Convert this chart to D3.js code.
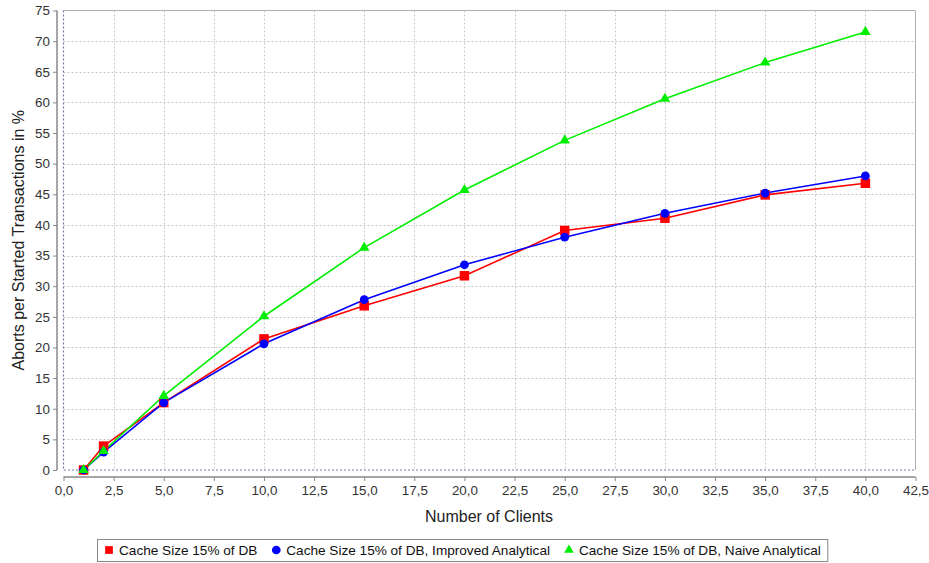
<!DOCTYPE html>
<html>
<head>
<meta charset="utf-8">
<script src="https://cdn.jsdelivr.net/npm/d3@7"></script>
<style>
  body { margin: 0; background: #fff; }
  svg { display: block; font-family: "Liberation Sans", Arial, sans-serif; }
</style>
</head>
<body>
<svg id="chart" width="929" height="563"></svg>
<script>
// Clients on the x axis
const clients = [1, 2, 5, 10, 15, 20, 25, 30, 35, 40];
// Abort rates (%) per series
const measured = [0, 3.9, 11.0, 21.4, 26.8, 31.7, 39.1, 41.1, 44.9, 46.8];
const improved = [0, 2.9, 11.0, 20.6, 27.8, 33.5, 38.0, 41.9, 45.2, 48.0];
const naive    = [0, 3.1, 12.1, 25.1, 36.3, 45.7, 53.8, 60.6, 66.5, 71.5];
const seriesNames = [
  "Cache Size 15% of DB",
  "Cache Size 15% of DB, Improved Analytical",
  "Cache Size 15% of DB, Naive Analytical"
];
const xTicks = d3.range(0, 42.51, 2.5);
const yTicks = d3.range(0, 75.1, 5);

const svg = d3.select("#chart");
const plot = { left: 63.5, right: 915.5, top: 10.5, bottom: 470 };

const x = d3.scaleLinear().domain([0, 42.5]).range([plot.left, plot.right]);
const y = d3.scaleLinear().domain([0, 75]).range([plot.bottom, plot.top]);
const fmt = v => d3.format(".1f")(v).replace(".", ",");

// plot background
svg.append("rect")
  .attr("x", plot.left).attr("y", plot.top)
  .attr("width", plot.right - plot.left).attr("height", plot.bottom - plot.top)
  .attr("fill", "#fff");

// grid
const grid = svg.append("g").attr("stroke", "#c8c8c8").attr("stroke-width", 1)
  .attr("stroke-dasharray", "2,2");
grid.selectAll(".gx").data(xTicks.filter(t => t > 0 && t < 42.5)).join("line")
  .attr("x1", d => Math.round(x(d)) + 0.5).attr("x2", d => Math.round(x(d)) + 0.5)
  .attr("y1", plot.top).attr("y2", plot.bottom);
grid.selectAll(".gy").data(yTicks.filter(t => t > 0 && t < 75)).join("line")
  .attr("y1", d => Math.round(y(d)) + 0.5).attr("y2", d => Math.round(y(d)) + 0.5)
  .attr("x1", plot.left).attr("x2", plot.right);

// outline: solid top & right
svg.append("path")
  .attr("d", `M${plot.left},${plot.top}H${plot.right}V${plot.bottom}`)
  .attr("fill", "none").attr("stroke", "#b0b0b0").attr("stroke-width", 1);
// zero baselines on left & bottom
svg.append("path")
  .attr("d", `M${plot.left},${plot.top}V${plot.bottom}H${plot.right}`)
  .attr("fill", "none").attr("stroke", "#7878a8").attr("stroke-width", 1.2)
  .attr("stroke-dasharray", "2,2");

// axes
const xAxisG = svg.append("g").attr("transform", `translate(0,477)`)
  .call(d3.axisBottom(x).tickValues(xTicks).tickFormat(fmt).tickSize(4).tickPadding(4));
const yAxisG = svg.append("g").attr("transform", `translate(57,0)`)
  .call(d3.axisLeft(y).tickValues(yTicks).tickFormat(d3.format("d")).tickSize(4).tickPadding(3));
[xAxisG, yAxisG].forEach(g => {
  g.select(".domain").attr("stroke", "#888").attr("stroke-width", 1.5);
  g.selectAll(".tick line").attr("stroke", "#888");
  g.selectAll(".tick text").attr("fill", "#333").attr("font-size", 13.4)
    .attr("font-family", "'Liberation Sans', Arial, sans-serif");
});
xAxisG.select(".domain").attr("d", `M${plot.left},0H${plot.right}`);
yAxisG.select(".domain").attr("d", `M0,${plot.top}V${plot.bottom}`);

// axis titles
svg.append("text").attr("x", 489).attr("y", 521.5)
  .attr("text-anchor", "middle").attr("font-size", 16).attr("fill", "#222")
  .text("Number of Clients");
svg.append("text")
  .attr("transform", `translate(23.5,${(plot.top + plot.bottom) / 2}) rotate(-90)`)
  .attr("text-anchor", "middle").attr("font-size", 16).attr("fill", "#222")
  .text("Aborts per Started Transactions in %");

// series
const series = [
  { name: seriesNames[0], values: measured, color: "#ff0000", shape: d3.symbolSquare, size: 90 },
  { name: seriesNames[1], values: improved, color: "#0000ff", shape: d3.symbolCircle, size: 60 },
  { name: seriesNames[2], values: naive,    color: "#00ee00", shape: d3.symbolTriangle, size: 48 }
];
const line = d3.line().x(d => x(d[0])).y(d => y(d[1]));
series.forEach(s => {
  const pts = clients.map((c, i) => [c, s.values[i]]);
  svg.append("path").datum(pts).attr("d", line)
    .attr("fill", "none").attr("stroke", s.color).attr("stroke-width", 1.6);
});
series.forEach(s => {
  const pts = clients.map((c, i) => [c, s.values[i]]);
  svg.append("g").selectAll("path").data(pts).join("path")
    .attr("transform", d => `translate(${x(d[0])},${y(d[1])})`)
    .attr("d", d3.symbol().type(s.shape).size(s.size))
    .attr("fill", s.color);
});

// legend
const legend = svg.append("g");
const legItems = legend.selectAll("g").data(series).join("g");
let cx = 105;
legItems.each(function (s) {
  const g = d3.select(this);
  g.append("path").attr("transform", `translate(${cx + 4},550)`)
    .attr("d", d3.symbol().type(s.shape).size(s.shape === d3.symbolTriangle ? 40 : 60))
    .attr("fill", s.color);
  const t = g.append("text").attr("x", cx + 14).attr("y", 555)
    .attr("font-size", 13.6).attr("fill", "#111").text(s.name);
  cx += 14 + t.node().getComputedTextLength() + 15;
});
legend.insert("rect", ":first-child")
  .attr("x", 97.5).attr("y", 539.5).attr("width", cx - 15 + 7 - 97.5).attr("height", 22)
  .attr("fill", "#fff").attr("stroke", "#888").attr("stroke-width", 1);
</script>
</body>
</html>
